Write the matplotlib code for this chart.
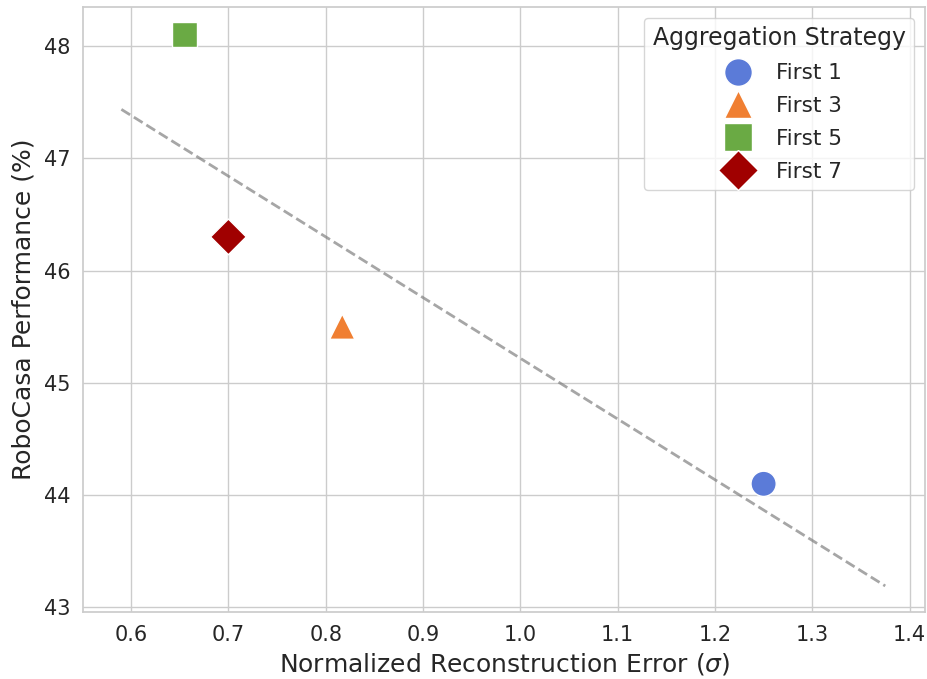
import numpy as np
import pandas as pd
import matplotlib
matplotlib.use('Agg')
import matplotlib.pyplot as plt
import seaborn as sns

# Datos
estrategias = ['First 1', 'First 3', 'First 5', 'First 7']
error_rec = [1.25, 0.817, 0.655, 0.70]
rendimiento = [44.1, 45.5, 48.1, 46.3]

colores = ['#5b7bd8', '#f07f32', '#6aaa44', '#a00000']
marcadores = ['o', '^', 's', 'D']

sns.set_theme(style='whitegrid')
plt.rcParams['font.family'] = ['DejaVu Sans']

df = pd.DataFrame({'Strategy': estrategias, 'Error': error_rec,
                   'Perf': rendimiento})

fig, ax = plt.subplots(figsize=(9.27, 6.79), dpi=100)
fig.subplots_adjust(left=0.09, right=0.998, bottom=0.099, top=0.99)

# Recta de ajuste
pend, corte = np.polyfit(df['Error'], df['Perf'], 1)
xs = np.array([df['Error'].min() - 0.065, df['Error'].max() + 0.125])
ax.plot(xs, pend * xs + corte, '--', color='gray', alpha=0.7,
        linewidth=2, zorder=2)

sns.scatterplot(data=df, x='Error', y='Perf', hue='Strategy',
                style='Strategy', palette=colores, markers=marcadores,
                s=330, edgecolor='white', linewidth=1, zorder=3, ax=ax)

ax.set_xlim(0.551, 1.416)
ax.set_ylim(42.96, 48.35)
ax.set_xticks(np.arange(0.6, 1.41, 0.1))
ax.set_yticks(np.arange(43, 49, 1))
ax.tick_params(labelsize=15)
ax.set_xlabel(r'Normalized Reconstruction Error ($\sigma$)', fontsize=18)
ax.set_ylabel('RoboCasa Performance (%)', fontsize=18, labelpad=6)

leg = ax.legend(title='Aggregation Strategy', loc='upper right',
                fontsize=15.5, title_fontsize=17, borderaxespad=0.5,
                markerscale=1.1, labelspacing=0.6)

fig.savefig('out.png', dpi=100)
